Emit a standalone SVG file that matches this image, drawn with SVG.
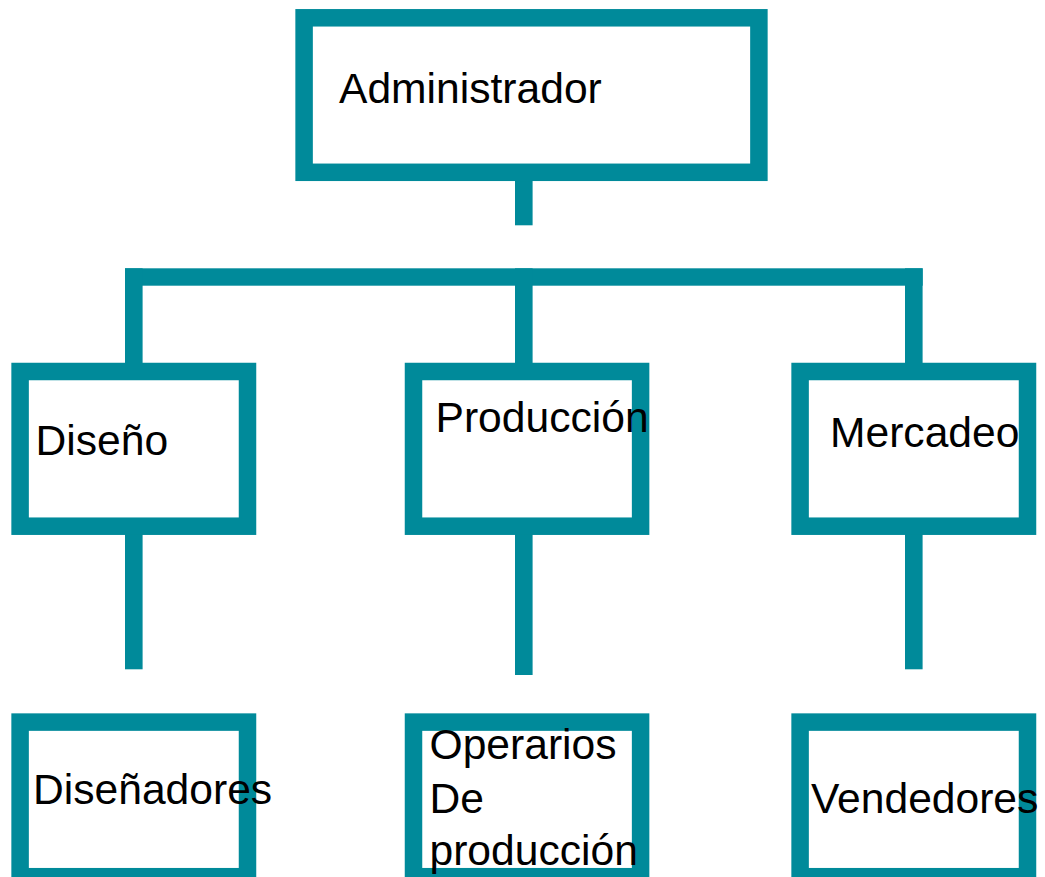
<svg xmlns="http://www.w3.org/2000/svg" width="1045" height="877" viewBox="0 0 1045 877">
<style>
.box{fill:#ffffff;stroke:#008a9a;stroke-width:17.5}
.conn{fill:#008a9a;stroke:none}
text{font-family:"Liberation Sans",Arial,sans-serif;font-size:42.6px;fill:#000000}
</style>
<rect width="1045" height="877" fill="#ffffff"/>
<g id="connectors">
<rect class="conn" x="515" y="181" width="17.6" height="44.3"/>
<rect class="conn" x="125" y="268.3" width="797.7" height="17.4"/>
<rect class="conn" x="125" y="268.3" width="17.6" height="95"/>
<rect class="conn" x="515" y="268.3" width="17.6" height="95"/>
<rect class="conn" x="905" y="268.3" width="17.6" height="95"/>
<rect class="conn" x="125" y="534" width="17.6" height="135.3"/>
<rect class="conn" x="515" y="534" width="17.6" height="141"/>
<rect class="conn" x="905" y="534" width="17.6" height="135.3"/>
</g>
<g id="node-administrador">
<rect class="box" x="304.1" y="17.8" width="454.8" height="154.5"/>
<text x="339" y="102.7">Administrador</text>
</g>
<g id="node-diseno">
<rect class="box" x="20.1" y="371.5" width="227.4" height="154.7"/>
<text x="35.5" y="455">Diseño</text>
</g>
<g id="node-produccion">
<rect class="box" x="413.5" y="371.5" width="227.1" height="154.7"/>
<text x="435.5" y="431.7">Producción</text>
</g>
<g id="node-mercadeo">
<rect class="box" x="800.1" y="371.5" width="227.4" height="154.7"/>
<text x="830" y="446.7">Mercadeo</text>
</g>
<g id="node-disenadores">
<rect class="box" x="20.1" y="722.1" width="227.4" height="154.6"/>
<text x="33" y="804">Diseñadores</text>
</g>
<g id="node-operarios">
<rect class="box" x="413.5" y="722.1" width="227.1" height="154.6"/>
<text x="429.5" y="759">Operarios</text>
<text x="429.5" y="813.3">De</text>
<text x="429.5" y="865">producción</text>
</g>
<g id="node-vendedores">
<rect class="box" x="800.1" y="722.1" width="227.4" height="154.6"/>
<text x="811" y="812.7">Vendedores</text>
</g>
</svg>
